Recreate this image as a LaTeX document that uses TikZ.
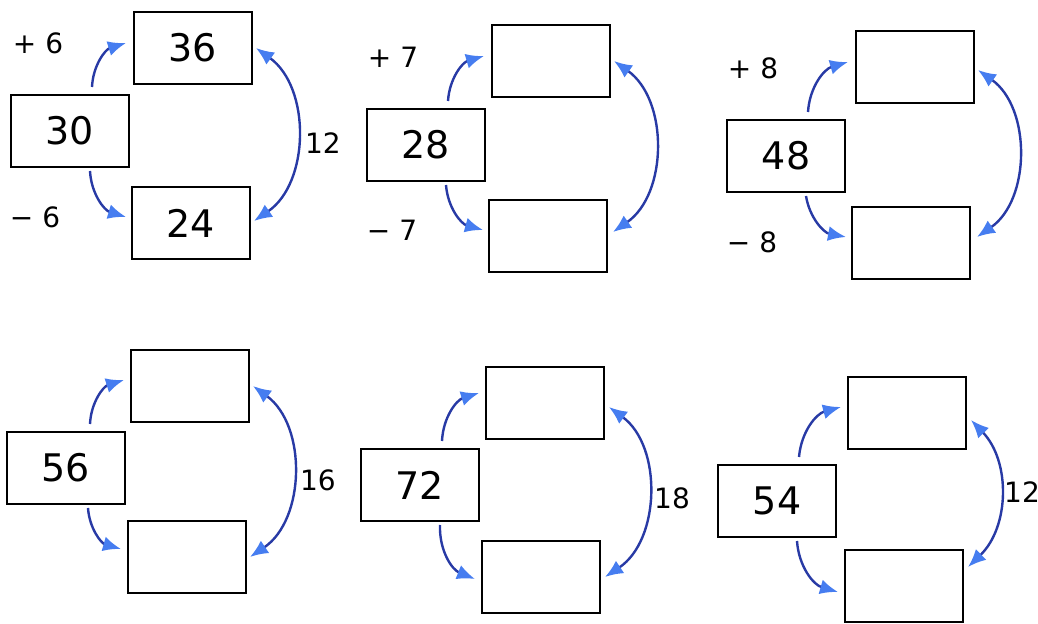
\documentclass[tikz,border=0pt]{standalone}
\usepackage{fontspec}
\setmainfont{DejaVu Sans}
\usetikzlibrary{arrows.meta}
\definecolor{arcblue}{RGB}{40,58,165}
\definecolor{tipblue}{RGB}{70,125,240}

\begin{document}
\begin{tikzpicture}[
    x=0.5pt, y=-0.5pt,
    numbox/.style={draw,line width=1pt,minimum width=59pt,minimum height=36pt,inner sep=0pt,
      font=\fontsize{19}{19}\selectfont},
    hint/.style={font=\fontsize{14}{14}\selectfont},
    tip/.tip={Latex[length=9pt,width=7.5pt,color=tipblue]},
    link/.style={-tip,arcblue,line width=1.2pt},
    pair/.style={tip-tip,arcblue,line width=1.2pt,bend left=55}
]
\useasboundingbox (0,0) rectangle (1038,624);

% first row
\node[numbox] (L1) at (70,131)  {30};
\node[numbox] (T1) at (193,48)  {36};
\node[numbox] (B1) at (191,223) {24};
\node[numbox] (L2) at (426,145) {28};
\node[numbox] (T2) at (551,61)  {};
\node[numbox] (B2) at (548,236) {};
\node[numbox] (L3) at (786,156) {48};
\node[numbox] (T3) at (915,67)  {};
\node[numbox] (B3) at (911,243) {};

% second row
\node[numbox] (L4) at (66,468)  {56};
\node[numbox] (T4) at (190,386) {};
\node[numbox] (B4) at (187,557) {};
\node[numbox] (L5) at (420,485) {72};
\node[numbox] (T5) at (545,403) {};
\node[numbox] (B5) at (541,577) {};
\node[numbox] (L6) at (777,501) {54};
\node[numbox] (T6) at (907,413) {};
\node[numbox] (B6) at (904,586) {};

% step labels
\node[hint] at (38,43)   {+ 6};
\node[hint] at (35,217)  {− 6};
\node[hint] at (393,57)  {+ 7};
\node[hint] at (392,230) {− 7};
\node[hint] at (753,68)  {+ 8};
\node[hint] at (752,242) {− 8};

% differences
\node[hint] at (323,143)  {12};
\node[hint] at (318,480)  {16};
\node[hint] at (672,498)  {18};
\node[hint] at (1022,492) {12};

% arrows
\draw[link] ([xshift=11pt,yshift=3.5pt]L1.north) to[bend left=35] ([xshift=-3.5pt,yshift=2.5pt]T1.west);
\draw[link] ([xshift=10pt,yshift=-1.5pt]L1.south) to[bend right=35] ([xshift=-2.5pt,yshift=3pt]B1.west);
\draw[pair] ([xshift=1.5pt]T1.east) to ([xshift=1.5pt,yshift=1pt]B1.east);

\draw[link] ([xshift=11pt,yshift=3.5pt]L2.north) to[bend left=35] ([xshift=-3.5pt,yshift=2.5pt]T2.west);
\draw[link] ([xshift=10pt,yshift=-1.5pt]L2.south) to[bend right=35] ([xshift=-2.5pt,yshift=3pt]B2.west);
\draw[pair] ([xshift=1.5pt]T2.east) to ([xshift=2.5pt,yshift=2pt]B2.east);

\draw[link] ([xshift=11pt,yshift=3.5pt]L3.north) to[bend left=35] ([xshift=-3.5pt,yshift=2.5pt]T3.west);
\draw[link] ([xshift=10pt,yshift=-1.5pt]L3.south) to[bend right=35] ([xshift=-2.5pt,yshift=3pt]B3.west);
\draw[pair] ([xshift=1.5pt,yshift=-1.5pt]T3.east) to ([xshift=3pt,yshift=3pt]B3.east);

\draw[link] ([xshift=12pt,yshift=3.5pt]L4.north) to[bend left=35] ([xshift=-3pt,yshift=3pt]T4.west);
\draw[link] ([xshift=11pt,yshift=-1.5pt]L4.south) to[bend right=35] ([xshift=-3pt,yshift=4pt]B4.west);
\draw[pair] ([xshift=1.5pt]T4.east) to ([xshift=1.5pt]B4.east);

\draw[link] ([xshift=11pt,yshift=3.5pt]L5.north) to[bend left=35] ([xshift=-3pt,yshift=5pt]T5.west);
\draw[link] ([xshift=10pt,yshift=-1.5pt]L5.south) to[bend right=35] ([xshift=-3pt,yshift=-1pt]B5.west);
\draw[pair] ([xshift=2pt,yshift=-2pt]T5.east) to ([xshift=2pt]B5.east);

\draw[link] ([xshift=11pt,yshift=3.5pt]L6.north) to[bend left=35] ([xshift=-3pt,yshift=3pt]T6.west);
\draw[link] ([xshift=10pt,yshift=-1.5pt]L6.south) to[bend right=35] ([xshift=-3pt,yshift=-3pt]B6.west);
\draw[pair,bend left=45] ([xshift=2pt,yshift=-3.5pt]T6.east) to ([xshift=2pt,yshift=9.5pt]B6.east);

\end{tikzpicture}
\end{document}
